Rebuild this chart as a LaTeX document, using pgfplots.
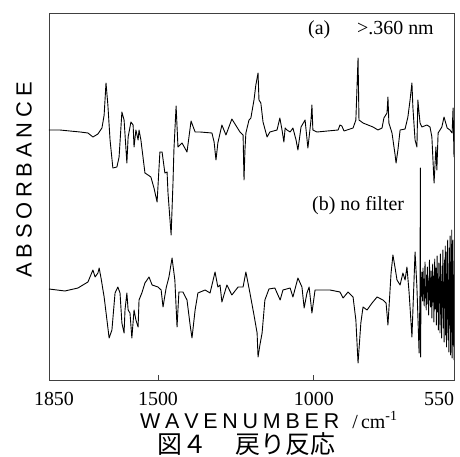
\documentclass[border=0pt]{standalone}
\usepackage{fontspec}
\usepackage{pgfplots}
\pgfplotsset{compat=1.18}
\setmainfont{Liberation Serif}
\newfontfamily\spaced{Liberation Sans}
\newfontfamily\cjk{Noto Sans CJK JP}
\newcommand\lsp{\kern4.8bp}
\newcommand\lbl{\fontsize{20}{24}\selectfont}

\begin{document}
\begin{tikzpicture}
\path[use as bounding box] (-49bp,-77bp) rectangle (411bp,380bp);
\begin{axis}[
  at={(0,0)}, anchor=south west,
  scale only axis, width=405bp, height=367bp,
  x dir=reverse, xmin=550, xmax=1850, ymin=0, ymax=367,
  ytick=\empty,
  xtick={1850,1500,1000,550},
  xticklabels={\hspace{10bp}1850,1500,1000\hspace{8bp},\makebox[0pt][r]{550}},
  xtick pos=left, tick align=inside, major tick length=5bp,
  xticklabel style={font=\lbl, anchor=base, yshift=-25.5bp, inner sep=0pt,
    text depth=0pt},
  axis line style={black!75, line width=0.8bp},
  tick style={black!75, line width=0.8bp},
]

% (a) >360 nm
\addplot[black, line width=0.9bp, line join=round] coordinates {
(1850,250) (1815,250) (1783,249) (1750,248) (1725,247) (1709,243) (1693,246)
(1680,252) (1673,265) (1667,297) (1661,275) (1654,240) (1645,212) (1632,213)
(1625,223) (1616,268) (1609,260) (1600,217) (1596,243) (1587,258) (1580,255)
(1577,233) (1571,250) (1564,240) (1561,250) (1555,240) (1542,207) (1532,205)
(1523,203) (1513,192) (1503,178) (1494,228) (1487,228) (1478,207) (1471,208)
(1468,187) (1458,145) (1452,197) (1449,230) (1442,274) (1436,233) (1423,237)
(1407,228) (1394,259) (1381,248) (1365,248) (1327,247) (1320,238) (1314,220)
(1308,237) (1295,255) (1282,245) (1263,261) (1237,248) (1227,245) (1224,200)
(1221,230) (1218,247) (1208,260) (1202,262) (1192,280) (1186,295) (1179,307)
(1176,280) (1170,277) (1163,258) (1150,243) (1141,248) (1118,250) (1109,262)
(1102,250) (1096,238) (1092,252) (1086,250) (1076,248) (1067,252) (1057,240)
(1051,230) (1041,253) (1028,260) (1019,232) (1015,243) (1009,260) (1006,275)
(1003,250) (990,248) (922,250) (916,255) (910,254) (903,249) (874,252)
(865,260) (858,322) (855,260) (842,257) (826,255) (810,253) (794,250)
(781,252) (775,262) (765,267) (762,283) (759,257) (749,247) (739,225)
(736,217) (730,230) (723,250) (707,251) (698,263) (691,280) (685,297)
(682,273) (675,240) (669,233) (666,280) (659,257) (653,253) (637,255)
(627,253) (621,243) (614,197) (608,233) (605,210) (601,247) (589,253)
(582,263) (572,252) (563,250) (556,247) (553,272) (550,223)
};

% (b) no filter
\addplot[black, line width=0.9bp, line join=round] coordinates {
(1850,91) (1799,89) (1757,92) (1725,98) (1709,110) (1702,103) (1693,107)
(1689,112) (1683,102) (1673,83) (1664,60) (1657,42) (1648,50) (1638,87)
(1629,93) (1622,87) (1616,57) (1609,47) (1606,70) (1600,87) (1596,70)
(1590,67) (1584,42) (1577,70) (1571,60) (1564,53) (1561,80) (1552,87)
(1542,97) (1529,103) (1519,95) (1500,93) (1490,90) (1484,73) (1474,92)
(1465,103) (1455,122) (1446,100) (1439,53) (1433,88) (1420,88) (1407,80)
(1397,55) (1391,42) (1381,70) (1372,87) (1349,90) (1333,87) (1317,108)
(1308,93) (1301,95) (1295,78) (1279,95) (1263,85) (1243,93) (1227,93)
(1218,108) (1205,87) (1192,65) (1182,47) (1179,23) (1173,35) (1166,47)
(1157,80) (1144,91) (1125,92) (1108,80) (1099,90) (1076,92) (1067,83)
(1051,102) (1038,93) (1031,72) (1022,87) (1015,93) (1006,67) (996,90)
(948,90) (916,88) (906,82) (890,88) (874,83) (865,60) (858,17) (849,57)
(842,73) (829,70) (813,77) (797,83) (778,80) (768,77) (762,55) (752,107)
(746,125) (739,112) (733,100) (723,95) (714,107) (707,100) (701,113)
(694,87) (685,43) (675,128) (669,93) (662,27) (659,90) (658,212) (657,23)
(656,98) (654.7,84) (653.4,108) (652.1,90) (650.8,79) (649.5,112) (648.2,86)
(646.9,101) (645.6,74) (644.3,96) (643,118) (641.7,82) (640.4,93) (639.1,70)
(637.8,105) (636.5,88) (635.2,113) (633.9,76) (632.6,99) (631.3,65) (630,94)
(628.7,120) (627.4,80) (626.1,102) (624.8,73) (623.5,109) (622.2,91) (620.9,62)
(619.6,97) (618.3,116) (617,78) (615.7,104) (614.4,58) (613.1,95) (611.8,121)
(610.5,71) (609.2,87) (607.9,112) (606.6,55) (605.3,99) (604,124) (602.7,68)
(601.4,92) (600.1,50) (598.8,117) (597.5,80) (596.2,103) (594.9,47) (593.6,126)
(592.3,66) (591,96) (589.7,42) (588.4,114) (587.1,84) (585.8,130) (584.5,52)
(583.2,98) (581.9,38) (580.6,120) (579.3,72) (578,134) (576.7,45) (575.4,106)
(574.1,33) (572.8,128) (571.5,61) (570.2,140) (568.9,40) (567.6,100) (566.3,28)
(565,132) (563.7,55) (562.4,144) (561.1,25) (559.8,118) (558.5,48) (557.2,150)
(555.9,22) (554.6,126) (553.3,140) (552,35) (551,105) (550,20)
};
\end{axis}

\node[font=\lbl, anchor=base west, inner sep=0pt] at (259bp,345bp) {(a)};
\node[font=\lbl, anchor=base west, inner sep=0pt] at (308bp,345bp) {>.360 nm};
\node[font=\lbl, anchor=base west, inner sep=0pt] at (263bp,169bp) {(b) no filter};

\node[rotate=90, inner sep=0pt, font=\spaced\fontsize{22}{26}\selectfont]
  at (-25bp,200bp) {A\lsp B\lsp S\lsp O\lsp R\lsp B\lsp A\lsp N\lsp C\lsp E};
\node[anchor=base west, inner sep=0pt] at (91bp,-48bp)
  {{\spaced\fontsize{21.5}{26}\selectfont W\lsp A\lsp V\lsp E\lsp N\lsp U\lsp M\lsp B\lsp E\lsp R}%
   \kern13bp{\lbl /\,cm\textsuperscript{-1}}};
\node[anchor=base west, inner sep=0pt, font=\cjk\fontsize{25}{30}\selectfont]
  at (108bp,-73bp) {図４　\kern4bp 戻り反応};
\end{tikzpicture}
\end{document}
